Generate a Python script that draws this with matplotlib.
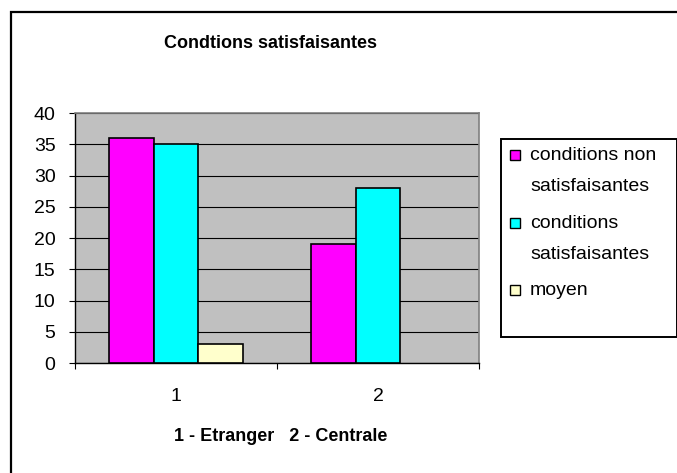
# Graphique en barres : conditions satisfaisantes

import matplotlib
matplotlib.use("Agg")
import matplotlib.pyplot as plt
from matplotlib.patches import Rectangle
import numpy as np

categories = ["1", "2"]
series_names = ["conditions non\nsatisfaisantes", "conditions\nsatisfaisantes", "moyen"]
non_satisf = [36, 19]
satisf = [35, 28]
moyen = [3, np.nan]
colors = ["#FF00FF", "#00FFFF", "#FFFFCC"]

plt.rcParams['font.family'] = ['Liberation Sans', 'DejaVu Sans']

W, H = 677, 473
fig = plt.figure(figsize=(W / 100, H / 100), dpi=100)

# cadre extérieur du graphique
fig.patches.append(Rectangle((11 / W, -0.05), 1.1, 1 - 12 / H + 0.05, transform=fig.transFigure,
                             fill=False, edgecolor="black", linewidth=1.6))

ax = fig.add_axes([75 / W, 1 - 363 / H, 404 / W, 250 / H])
ax.set_facecolor("#C0C0C0")

x = np.arange(1, len(categories) + 1)
width = 0.22
all_series = [non_satisf, satisf, moyen]
for i, vals in enumerate(all_series):
   ax.bar(x + (i - 1) * width, vals, width, color=colors[i], edgecolor="black", linewidth=1.2, zorder=3)

ax.set_xlim(0.5, 2.5)
ax.set_ylim(0, 40)
ax.set_yticks(range(0, 41, 5))
ax.yaxis.grid(True, color="black", linewidth=0.8, zorder=0)
ax.set_axisbelow(True)

ax.set_xticks([0.5, 1.5, 2.5])
ax.set_xticklabels(["", "", ""])
ax.set_xticks(x, minor=True)
ax.set_xticklabels(categories, minor=True)
ax.tick_params(axis="x", which="major", direction="out", length=4, color="black")
ax.tick_params(axis="x", which="minor", length=0, pad=18, labelsize=14)
ax.tick_params(axis="y", direction="out", length=4, pad=10, labelsize=14)

for s in ["top", "right"]:
   ax.spines[s].set_color("#808080")
   ax.spines[s].set_linewidth(1.2)
for s in ["left", "bottom"]:
   ax.spines[s].set_color("black")
   ax.spines[s].set_linewidth(1.0)

fig.text(271 / W, 1 - 44 / H, "Condtions satisfaisantes", ha="center", va="center",
         fontsize=13, fontweight="bold")
fig.text(281 / W, 1 - 436 / H, "1 - Etranger   2 - Centrale", ha="center", va="center",
         fontsize=13, fontweight="bold")

# légende dessinée à la main (carré aligné sur la première ligne)
fig.patches.append(Rectangle((501 / W, 1 - 337 / H), 176 / W, 198 / H, transform=fig.transFigure,
                             fill=True, facecolor="white", edgecolor="black", linewidth=1.4))
first_line_y = [155, 223, 290]
for i, name in enumerate(series_names):
   yc = first_line_y[i]
   fig.patches.append(Rectangle((510 / W, 1 - (yc + 5) / H), 10 / W, 10 / H, transform=fig.transFigure,
                                facecolor=colors[i], edgecolor="black", linewidth=1.0))
   fig.text(530 / W, 1 - (yc - 8) / H, name, ha="left", va="top", fontsize=14, linespacing=2.05)

fig.savefig("out.png", dpi=100)
